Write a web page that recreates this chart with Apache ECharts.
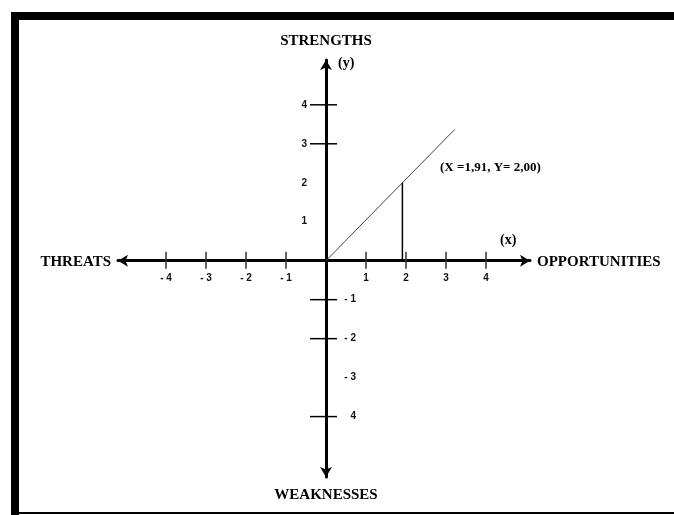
<!DOCTYPE html>
<html>
<head>
<meta charset="utf-8">
<style>
html, body { margin: 0; padding: 0; background: #fff; }
#chart { width: 674px; height: 515px; }
</style>
<script src="https://cdn.jsdelivr.net/npm/echarts@6/dist/echarts.min.js"></script>
</head>
<body>
<div id="chart"></div>
<script>
// tick values and the labels printed beside them
const xTickValues = [-4, -3, -2, -1, 1, 2, 3, 4];
const xTickLabels = ['- 4', '- 3', '- 2', '- 1', '1', '2', '3', '4'];
const yTickValues = [4, 3, 2, 1, -1, -2, -3, -4];
const yTickLabels = ['4', '3', '2', '1', '- 1', '- 2', '- 3', '4'];
const yTickMarks = [4, 3, -1, -2, -4]; // only these have a tick line

// result of the analysis
const resultPoint = [1.91, 2.00];
const resultLine = [[0, 0], [1.91, 2.00], [3.22, 3.37]];
const resultLabel = '(X =1,91, Y= 2,00)';

const serif = '"Liberation Serif", "Times New Roman", serif';
const sans = '"Liberation Sans", Arial, sans-serif';

const chart = echarts.init(document.getElementById('chart'));

function axisCfg(min, max) {
    return {
        type: 'value',
        min: min,
        max: max,
        axisLine: {
            onZero: true,
            symbol: ['arrow', 'arrow'],
            symbolSize: [9, 10],
            lineStyle: { color: '#000', width: 3 }
        },
        axisTick: { show: false },
        axisLabel: { show: false },
        splitLine: { show: false }
    };
}

function txt(text, x, y, size, align, vAlign) {
    return {
        type: 'text',
        x: x,
        y: y,
        style: {
            text: text,
            font: 'bold ' + size + 'px ' + serif,
            fill: '#000',
            align: align, textAlign: align,
            verticalAlign: vAlign || 'middle', textVerticalAlign: vAlign || 'middle'
        }
    };
}

chart.setOption({
    animation: false,
    backgroundColor: '#fff',
    grid: { left: 118, top: 60, width: 412, height: 417, outerBoundsMode: 'none' },
    xAxis: axisCfg(-5.2, 5.1),
    yAxis: axisCfg(-5.55, 5.15),
    graphic: [
        // frame
        { type: 'rect', shape: { x: 11, y: 12, width: 663, height: 8 }, style: { fill: '#000' } },
        { type: 'rect', shape: { x: 11, y: 12, width: 8, height: 503 }, style: { fill: '#000' } },
        { type: 'rect', shape: { x: 19, y: 512, width: 655, height: 2 }, style: { fill: '#000' } },
        txt('STRENGTHS', 326, 41, 15, 'center'),
        txt('WEAKNESSES', 326, 495, 15, 'center'),
        txt('THREATS', 111, 262, 15, 'right'),
        txt('OPPORTUNITIES', 537, 262, 15, 'left'),
        txt('(y)', 338, 63, 14, 'left'),
        txt('(x)', 500, 240, 14, 'left'),
        txt(resultLabel, 440, 168, 13, 'left')
    ],
    series: [
        {
            type: 'line',
            data: resultLine,
            showSymbol: false,
            lineStyle: { color: '#444', width: 1 },
            z: 1
        },
        {
            type: 'line',
            data: [[resultPoint[0], 0], resultPoint],
            showSymbol: false,
            lineStyle: { color: '#000', width: 1.5 },
            z: 1
        },
        {
            type: 'custom',
            data: xTickValues.map(v => [v, 0]),
            renderItem: (params, api) => {
                const p = api.coord([api.value(0), api.value(1)]);
                return {
                    type: 'group',
                    children: [
                        { type: 'line', shape: { x1: p[0], y1: p[1] - 9, x2: p[0], y2: p[1] + 8 },
                          style: { stroke: '#333', lineWidth: 1.5 } },
                        { type: 'text', style: {
                            text: xTickLabels[params.dataIndex], x: p[0], y: p[1] + 18,
                            align: 'center', verticalAlign: 'middle',
                            font: 'bold 10px ' + sans, fill: '#111' } }
                    ]
                };
            },
            z: 3
        },
        {
            type: 'custom',
            data: yTickValues.map(v => [0, v]),
            renderItem: (params, api) => {
                const v = api.value(1);
                const p = api.coord([api.value(0), v]);
                const children = [];
                if (yTickMarks.indexOf(v) >= 0) {
                    children.push({ type: 'line', shape: { x1: p[0] - 16, y1: p[1], x2: p[0] + 11, y2: p[1] },
                        style: { stroke: '#000', lineWidth: 1.5 } });
                }
                children.push({ type: 'text', style: {
                    text: yTickLabels[params.dataIndex],
                    x: v > 0 ? p[0] - 19 : p[0] + 30, y: p[1],
                    align: 'right', verticalAlign: 'middle',
                    font: 'bold 10px ' + sans, fill: '#111' } });
                return { type: 'group', children: children };
            },
            z: 3
        }
    ]
});
</script>
</body>
</html>
